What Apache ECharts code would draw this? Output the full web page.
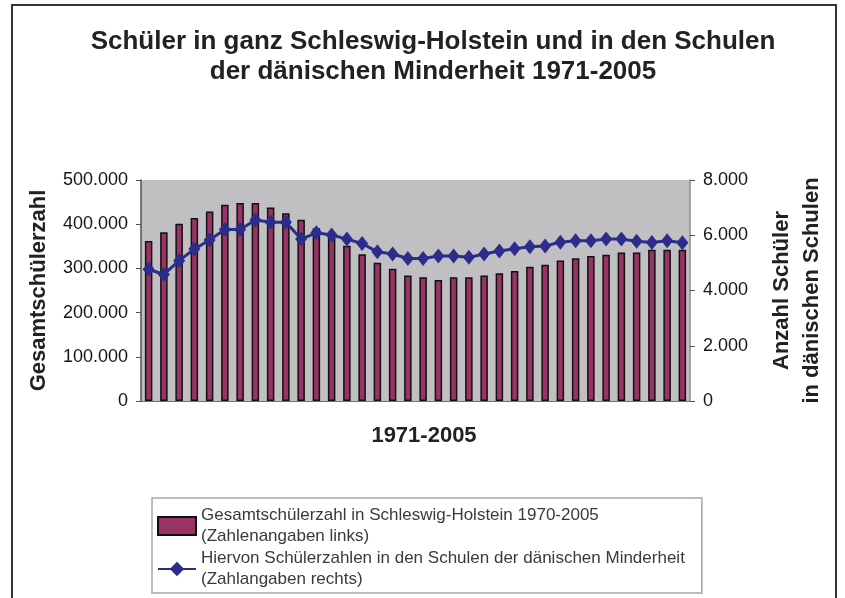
<!DOCTYPE html>
<html>
<head>
<meta charset="utf-8">
<script src="https://cdn.jsdelivr.net/npm/echarts@6/dist/echarts.min.js"></script>
<style>
  html, body { margin: 0; padding: 0; background: #fff; }
  #chart { width: 845px; height: 598px; }
</style>
</head>
<body>
<div id="chart"></div>
<script>
// School years shown on the category axis
const years = [
  '1970', '1971', '1972', '1973', '1974', '1975', '1976', '1977', '1978', '1979',
  '1980', '1981', '1982', '1983', '1984', '1985', '1986', '1987', '1988', '1989',
  '1990', '1991', '1992', '1993', '1994', '1995', '1996', '1997', '1998', '1999',
  '2000', '2001', '2002', '2003', '2004', '2005'
];

// Total pupils in Schleswig-Holstein (left axis)
const totalPupils = [
  362000, 382000, 401000, 414000, 429000, 444000, 448000, 448000, 438000, 425000,
  410000, 391000, 372000, 351000, 332000, 313000, 299000, 284000, 280000, 274000,
  280000, 280000, 284000, 289000, 294000, 304000, 308000, 318000, 323000, 328000,
  331000, 336000, 336000, 342000, 342000, 342000
];

// Pupils in the schools of the Danish minority (right axis)
const danishPupils = [
  4770, 4580, 5080, 5500, 5830, 6210, 6210, 6550, 6470, 6470,
  5860, 6090, 6010, 5860, 5700, 5400, 5320, 5160, 5160, 5250,
  5250, 5200, 5320, 5430, 5510, 5580, 5610, 5750, 5800, 5800,
  5860, 5860, 5780, 5740, 5800, 5730
];

// Tick values of both value axes
const leftTicks = [0, 100000, 200000, 300000, 400000, 500000];
const rightTicks = [0, 2000, 4000, 6000, 8000];

const seriesTotalName = 'Gesamtschülerzahl in Schleswig-Holstein 1970-2005\n(Zahlenangaben links)';
const seriesDanishName = 'Hiervon Schülerzahlen in den Schulen der dänischen Minderheit\n(Zahlangaben rechts)';

const FONT = '"Liberation Sans", Arial, Helvetica, sans-serif';

// German thousands separator: 500000 -> 500.000
function fmtDe(v) {
  return String(v).replace(/\B(?=(\d{3})+(?!\d))/g, '.');
}

const chart = echarts.init(document.getElementById('chart'), null, { renderer: 'canvas' });

chart.setOption({
  backgroundColor: '#ffffff',
  animation: false,
  textStyle: { fontFamily: FONT },
  title: {
    text: 'Schüler in ganz Schleswig-Holstein und in den Schulen\nder dänischen Minderheit 1971-2005',
    left: 433,
    top: 27,
    padding: 0,
    textAlign: 'center',
    textStyle: {
      fontFamily: FONT,
      fontSize: 26,
      fontWeight: 'bold',
      color: '#222222',
      lineHeight: 30
    }
  },
  grid: {
    left: 141,
    right: 155,
    top: 180,
    bottom: 197,
    show: true,
    backgroundColor: '#c0c0c2',
    borderWidth: 0
  },
  legend: {
    orient: 'vertical',
    left: 152,
    top: 498,
    padding: [7, 17, 3, 5],
    borderColor: '#a9a5a5',
    borderWidth: 1.5,
    itemWidth: 38,
    itemHeight: 18,
    itemGap: 1,
    textStyle: { fontFamily: FONT, fontSize: 17, color: '#3a3a3a', lineHeight: 21 },
    data: [
      { name: seriesTotalName, icon: 'rect' },
      { name: seriesDanishName }
    ]
  },
  xAxis: {
    type: 'category',
    data: years,
    boundaryGap: true,
    name: '1971-2005',
    nameLocation: 'middle',
    nameGap: 24,
    nameTextStyle: {
      fontFamily: FONT, fontSize: 22, fontWeight: 'bold', color: '#222222',
      padding: [0, 0, 0, 17]
    },
    axisLine: { lineStyle: { color: '#707070', width: 1 } },
    axisTick: { show: false },
    axisLabel: { show: false },
    splitLine: { show: false }
  },
  yAxis: [
    {
      type: 'value',
      position: 'left',
      min: leftTicks[0],
      max: leftTicks[leftTicks.length - 1],
      interval: leftTicks[1] - leftTicks[0],
      name: 'Gesamtschülerzahl',
      nameLocation: 'middle',
      nameGap: 81,
      nameTextStyle: { fontFamily: FONT, fontSize: 22, fontWeight: 'bold', color: '#222222', lineHeight: 26 },
      axisLine: { show: true, lineStyle: { color: '#505050', width: 1.5 } },
      axisTick: { show: true, length: 5, lineStyle: { color: '#505050' } },
      axisLabel: { margin: 13, fontFamily: FONT, fontSize: 18, color: '#151515', formatter: fmtDe },
      splitLine: { show: false }
    },
    {
      type: 'value',
      position: 'right',
      min: rightTicks[0],
      max: rightTicks[rightTicks.length - 1],
      interval: rightTicks[1] - rightTicks[0],
      name: 'Anzahl Schüler\nin dänischen Schulen',
      nameLocation: 'middle',
      nameGap: 77,
      nameTextStyle: { fontFamily: FONT, fontSize: 22, fontWeight: 'bold', color: '#222222', lineHeight: 30 },
      axisLine: { show: true, lineStyle: { color: '#8a8a8a', width: 1.5 } },
      axisTick: { show: true, length: 5, lineStyle: { color: '#505050' } },
      axisLabel: { margin: 13, fontFamily: FONT, fontSize: 18, color: '#151515', formatter: fmtDe },
      splitLine: { show: false }
    }
  ],
  series: [
    {
      name: seriesTotalName,
      type: 'bar',
      yAxisIndex: 0,
      data: totalPupils,
      barWidth: 7.5,
      itemStyle: { color: '#993366', borderColor: '#111111', borderWidth: 1.5 }
    },
    {
      name: seriesDanishName,
      type: 'line',
      yAxisIndex: 1,
      data: danishPupils,
      symbol: 'diamond',
      symbolSize: [12, 15],
      showSymbol: true,
      showAllSymbol: true,
      lineStyle: { color: '#2c2c8c', width: 3 },
      itemStyle: { color: '#2c2c8c' }
    }
  ],
  graphic: [
    {
      type: 'rect',
      silent: true,
      shape: { x: 12, y: 5, width: 824, height: 640 },
      style: { fill: null, stroke: '#333333', lineWidth: 2 },
      z: 100
    }
  ]
});
</script>
</body>
</html>
